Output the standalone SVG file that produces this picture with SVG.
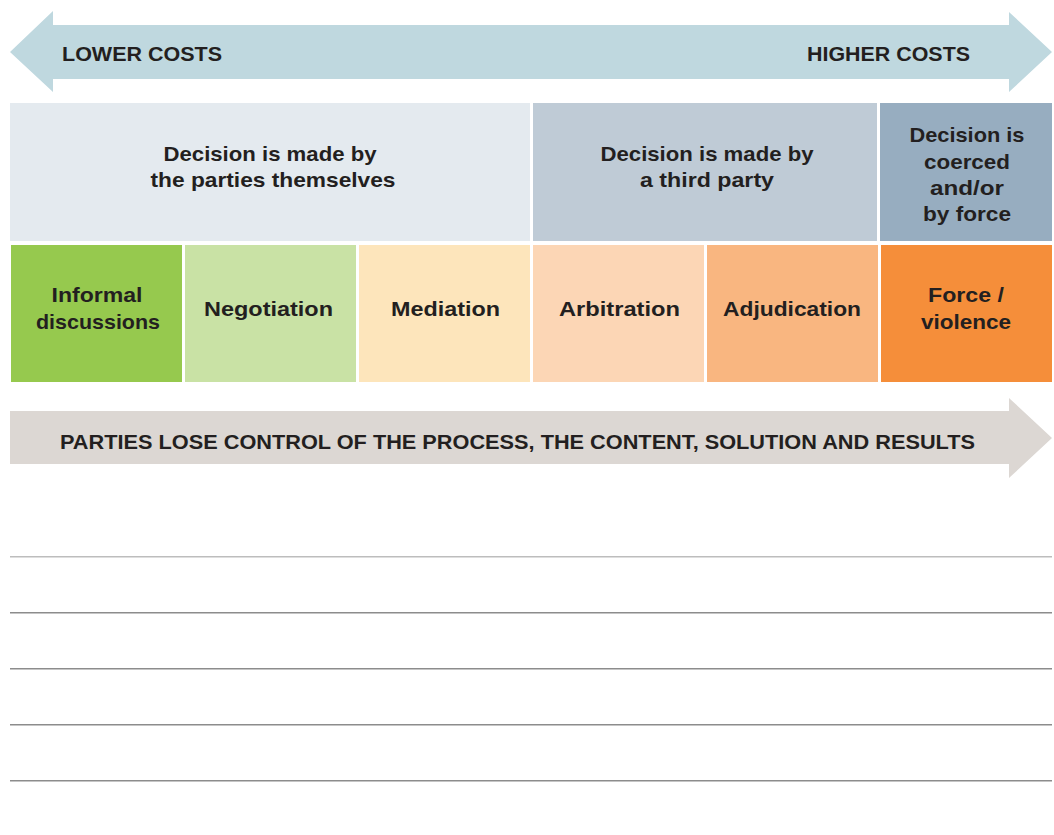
<svg xmlns="http://www.w3.org/2000/svg" width="1054" height="835" viewBox="0 0 1054 835">
<style>
text{font-family:"Liberation Sans",Arial,sans-serif;font-weight:bold;font-size:21px;fill:#231f20}
.c{text-anchor:middle}
.rule{stroke:#8c8c8c;stroke-width:1.4}
</style>
<rect width="1054" height="835" fill="#ffffff"/>
<g id="cost-arrow">
<polygon points="10,52 53,11 53,25 1009,25 1009,12 1052,52 1009,92 1009,79 53,79 53,92" fill="#bfd8df"/>
<text x="62" y="61" textLength="160" lengthAdjust="spacingAndGlyphs">LOWER COSTS</text>
<text x="970" y="61" text-anchor="end" textLength="163" lengthAdjust="spacingAndGlyphs">HIGHER COSTS</text>
</g>
<g id="parties">
<rect x="10" y="103" width="520" height="138" fill="#e4eaef"/>
<text class="c" x="270" y="161" textLength="213" lengthAdjust="spacingAndGlyphs">Decision is made by</text>
<text class="c" x="273" y="187" textLength="245" lengthAdjust="spacingAndGlyphs">the parties themselves</text>
</g>
<g id="third-party">
<rect x="533" y="103" width="344" height="138" fill="#bfcbd6"/>
<text class="c" x="707" y="161" textLength="213" lengthAdjust="spacingAndGlyphs">Decision is made by</text>
<text class="c" x="707" y="187" textLength="134" lengthAdjust="spacingAndGlyphs">a third party</text>
</g>
<g id="coerced">
<rect x="880" y="103" width="172" height="138" fill="#97adc0"/>
<text class="c" x="967" y="142" textLength="115" lengthAdjust="spacingAndGlyphs">Decision is</text>
<text class="c" x="967" y="169" textLength="86" lengthAdjust="spacingAndGlyphs">coerced</text>
<text class="c" x="967" y="195" textLength="74" lengthAdjust="spacingAndGlyphs">and/or</text>
<text class="c" x="967" y="221" textLength="88" lengthAdjust="spacingAndGlyphs">by force</text>
</g>
<g id="informal">
<rect x="11" y="245" width="171" height="137" fill="#96c94e"/>
<text class="c" x="97" y="302" textLength="91" lengthAdjust="spacingAndGlyphs">Informal</text>
<text class="c" x="98" y="329" textLength="124" lengthAdjust="spacingAndGlyphs">discussions</text>
</g>
<g id="negotiation">
<rect x="185" y="245" width="171" height="137" fill="#c9e2a5"/>
<text class="c" x="268.5" y="316" textLength="129" lengthAdjust="spacingAndGlyphs">Negotiation</text>
</g>
<g id="mediation">
<rect x="359" y="245" width="171" height="137" fill="#fde5bb"/>
<text class="c" x="445.5" y="316" textLength="109" lengthAdjust="spacingAndGlyphs">Mediation</text>
</g>
<g id="arbitration">
<rect x="533" y="245" width="171" height="137" fill="#fcd6b5"/>
<text class="c" x="619.5" y="316" textLength="121" lengthAdjust="spacingAndGlyphs">Arbitration</text>
</g>
<g id="adjudication">
<rect x="707" y="245" width="171" height="137" fill="#f9b680"/>
<text class="c" x="792" y="316" textLength="138" lengthAdjust="spacingAndGlyphs">Adjudication</text>
</g>
<g id="force">
<rect x="881" y="245" width="171" height="137" fill="#f58e3a"/>
<text class="c" x="966" y="302" textLength="76" lengthAdjust="spacingAndGlyphs">Force /</text>
<text class="c" x="966" y="329" textLength="90" lengthAdjust="spacingAndGlyphs">violence</text>
</g>
<g id="control-arrow">
<polygon points="10,411 1009,411 1009,398 1052,438 1009,478 1009,464 10,464" fill="#dcd7d3"/>
<text x="60" y="449" textLength="915" lengthAdjust="spacingAndGlyphs">PARTIES LOSE CONTROL OF THE PROCESS, THE CONTENT, SOLUTION AND RESULTS</text>
</g>
<g id="connectors"></g>
<g id="rules">
<line x1="10" y1="556.7" x2="1052" y2="556.7" stroke="#bdbdbd" stroke-width="1.4"/>
<line class="rule" x1="10" y1="612.7" x2="1052" y2="612.7"/>
<line class="rule" x1="10" y1="668.7" x2="1052" y2="668.7"/>
<line class="rule" x1="10" y1="724.7" x2="1052" y2="724.7"/>
<line class="rule" x1="10" y1="780.7" x2="1052" y2="780.7"/>
</g>
</svg>
